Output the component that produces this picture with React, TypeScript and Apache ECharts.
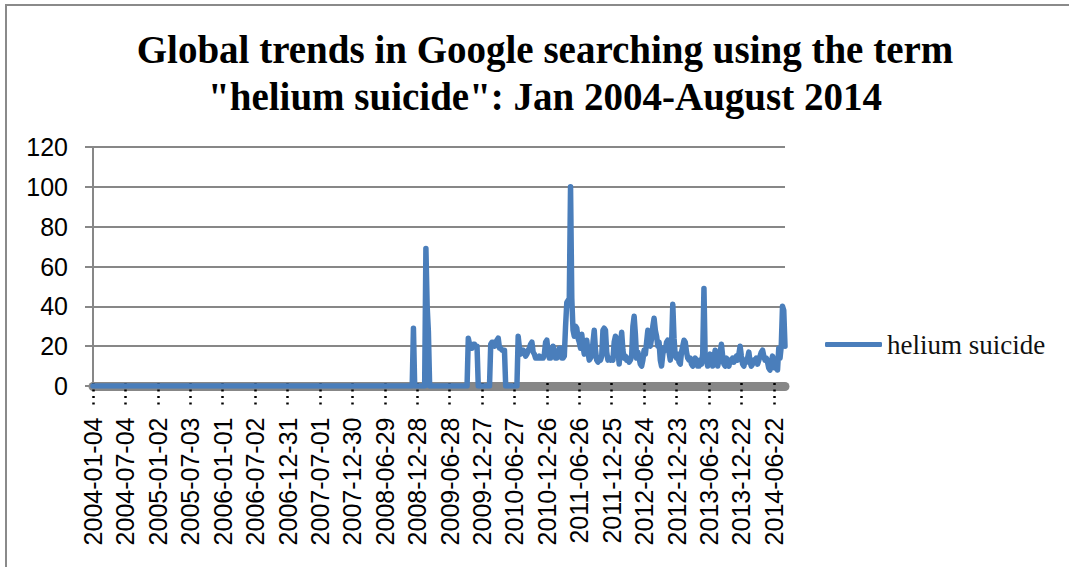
import React, { useEffect, useRef } from "react";
import * as echarts from "echarts";

// Weekly Google Trends index, weeks starting Sunday, from 2004-01-04
const y2004 = [
  0,0,0,0,0,0,0,0,0,0,0,0,0,
  0,0,0,0,0,0,0,0,0,0,0,0,0,
  0,0,0,0,0,0,0,0,0,0,0,0,0,
  0,0,0,0,0,0,0,0,0,0,0,0,0,
];
const y2005 = [
  0,0,0,0,0,0,0,0,0,0,0,0,0,
  0,0,0,0,0,0,0,0,0,0,0,0,0,
  0,0,0,0,0,0,0,0,0,0,0,0,0,
  0,0,0,0,0,0,0,0,0,0,0,0,0,
];
const y2006 = [
  0,0,0,0,0,0,0,0,0,0,0,0,0,
  0,0,0,0,0,0,0,0,0,0,0,0,0,
  0,0,0,0,0,0,0,0,0,0,0,0,0,
  0,0,0,0,0,0,0,0,0,0,0,0,0,
  0,
];
const y2007 = [
  0,0,0,0,0,0,0,0,0,0,0,0,0,
  0,0,0,0,0,0,0,0,0,0,0,0,0,
  0,0,0,0,0,0,0,0,0,0,0,0,0,
  0,0,0,0,0,0,0,0,0,0,0,0,0,
];
const y2008 = [
  0,0,0,0,0,0,0,0,0,0,0,0,0,
  0,0,0,0,0,0,0,0,0,0,0,0,0,
  0,0,0,0,0,0,0,0,0,0,0,0,0,
  0,0,0,0,0,0,0,0,0,29,0,0,0,
];
const y2009 = [
  0,0,0,0,0,0,69,40,27,0,
  0,0,0,0,0,0,0,0,0,0,
  0,0,0,0,0,0,0,0,0,0,
  0,0,0,0,0,0,0,0,0,0,
  24,21,19,19,21,21,20,20,0,0,
  0,0,
];
const y2010 = [
  0,0,0,0,0,0,21,22,22,20,
  21,23,24,19,19,18,18,18,0,0,
  0,0,0,0,0,0,0,0,25,19,
  16,17,18,17,15,16,18,19,21,22,
  17,16,14,14,14,15,14,14,14,16,
  22,23,
];
const y2011 = [
  17,14,14,16,20,17,14,14,15,19,
  19,14,14,15,30,42,43,44,100,44,
  28,25,30,29,24,22,19,26,20,16,
  18,23,17,13,14,15,22,28,18,13,
  12,14,13,15,28,29,28,17,13,14,
  13,14,
];
const y2012 = [
  13,22,25,24,18,11,20,27,18,14,
  15,13,14,12,13,15,30,35,26,14,
  17,14,11,10,13,18,16,22,28,25,
  20,24,30,34,28,25,20,22,13,10,
  16,19,18,22,23,17,13,20,41,24,
  15,14,16,
];
const y2013 = [
  12,11,17,20,23,22,17,14,13,14,
  11,10,12,14,13,10,10,13,11,16,
  49,14,13,10,12,16,13,10,14,18,
  14,10,13,17,21,15,11,10,14,12,
  10,13,12,14,12,14,15,13,16,20,
  15,11,
];
const y2014 = [
  10,13,12,14,17,12,10,11,13,12,
  14,11,13,15,17,18,15,13,14,12,
  9,8,12,15,13,9,12,8,19,14,
  20,40,38,20,
];

const seriesName = "helium suicide";
const titleText =
  'Global trends in Google searching using the term\n"helium suicide": Jan 2004-August 2014';
const yTicks = { min: 0, max: 120, interval: 20 };

const values = [
  ...y2004, ...y2005, ...y2006, ...y2007, ...y2008, ...y2009,
  ...y2010, ...y2011, ...y2012, ...y2013, ...y2014,
];
const START = Date.UTC(2004, 0, 4);
const weeks = values.map((_, i) =>
  new Date(START + i * 7 * 86400000).toISOString().slice(0, 10)
);

const GRAY = "#878787";

export default function App() {
  const ref = useRef<HTMLDivElement>(null);
  useEffect(() => {
    if (!ref.current) return;
    const chart = echarts.init(ref.current, null, { renderer: "svg" });
    chart.setOption({
      animation: false,
      backgroundColor: "#ffffff",
      title: {
        text: titleText,
        left: 540,
        textAlign: "center",
        top: 21,
        textStyle: {
          fontFamily: "Liberation Serif",
          fontWeight: "bold",
          fontSize: 39,
          lineHeight: 47,
          color: "#000",
        },
      },
      legend: {
        data: [seriesName],
        left: 820,
        top: 326,
        icon: "roundRect",
        itemWidth: 57,
        itemHeight: 5,
        textStyle: {
          fontFamily: "Liberation Serif",
          fontSize: 27,
          color: "#111",
        },
      },
      grid: { left: 93, right: 284, top: 147, bottom: 181, containLabel: false },
      xAxis: [
        {
          type: "category",
          data: weeks,
          boundaryGap: false,
          offset: 4.5,
          axisLine: { show: true, lineStyle: { color: GRAY, width: 9 } },
          axisTick: { show: false },
          axisLabel: {
            interval: 25,
            rotate: 90,
            margin: 27,
            fontFamily: "Liberation Sans",
            fontSize: 25,
            color: "#000",
          },
          splitLine: { show: false },
        },
        {
          type: "category",
          data: weeks,
          boundaryGap: false,
          position: "bottom",
          offset: -3,
          axisLine: { show: false },
          axisLabel: { show: false },
          axisTick: {
            show: true,
            interval: 25,
            length: 24,
            lineStyle: { color: "#000", width: 2.5, type: [2, 4.5] },
          },
          splitLine: { show: false },
        },
      ],
      yAxis: {
        type: "value",
        min: yTicks.min,
        max: yTicks.max,
        interval: yTicks.interval,
        axisLine: { show: true, lineStyle: { color: GRAY, width: 2 } },
        axisTick: { show: true, length: 8, lineStyle: { color: GRAY, width: 2 } },
        axisLabel: {
          margin: 25,
          fontFamily: "Liberation Sans",
          fontSize: 25,
          color: "#000",
        },
        splitLine: { show: true, lineStyle: { color: GRAY, width: 2 } },
      },
      series: [
        {
          name: seriesName,
          type: "line",
          data: values,
          xAxisIndex: 0,
          showSymbol: false,
          symbol: "none",
          color: "#4a7ebb",
          lineStyle: { color: "#4a7ebb", width: 5.5, cap: "round", join: "round" },
          z: 5,
        },
      ],
    });
    return () => chart.dispose();
  }, []);
  return (
    <div style={{ position: "absolute", left: 0, top: 0, width: 1069, height: 567, background: "#fff" }}>
      <div ref={ref} style={{ position: "absolute", left: 0, top: 0, width: 1069, height: 567 }} />
      <div
        style={{
          position: "absolute",
          left: 5,
          top: 4,
          width: 1064,
          height: 563,
          borderTop: "2px solid #8a8a8a",
          borderLeft: "2px solid #8a8a8a",
          boxSizing: "border-box",
          pointerEvents: "none",
        }}
      />
    </div>
  );
}
